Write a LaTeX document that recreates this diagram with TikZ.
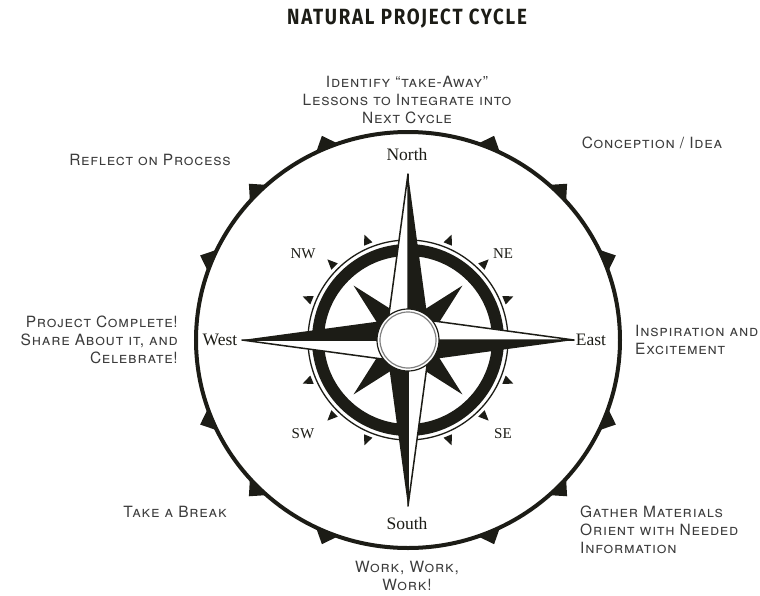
\documentclass[tikz,border=0pt]{standalone}
\usepackage{fontspec}
\usepackage{xcolor}
\newfontfamily\capsfont[Letters=SmallCaps,LetterSpace=5]{TeX Gyre Heros}
\newfontfamily\titlefont[FakeStretch=0.85,LetterSpace=8]{Fira Sans}
\newfontfamily\pointfont{Liberation Serif}
\definecolor{ink}{RGB}{28,28,22}
\definecolor{labelgray}{RGB}{60,60,60}
\tikzset{
  phase/.style={font=\capsfont\fontsize{15.5}{18}\selectfont, text=labelgray, inner sep=0pt},
  cardinal/.style={font=\pointfont\fontsize{17.5}{18}\selectfont, text=ink, inner sep=0pt},
  intercardinal/.style={font=\pointfont\fontsize{15}{16}\selectfont, text=ink, inner sep=0pt},
}

\begin{document}
\begin{tikzpicture}[x=1pt, y=1pt, line join=round]
    \useasboundingbox (-408,-255) rectangle (352,340);

    % Title
    \node[font=\titlefont\bfseries\fontsize{22}{24}\selectfont, text=ink] (title) at (-1,321) {NATURAL PROJECT CYCLE};

    % Outer circle and teeth
    \draw[ink, line width=4] (0,0) ellipse [x radius=212, y radius=208];
    \foreach \a in {22.5,45,67.5,112.5,135,157.5,202.5,225,247.5,292.5,315,337.5}
        \fill[ink] (\a-3.5:211 and 207) -- (\a:225 and 221) -- (\a+3.5:211 and 207) -- cycle;

    % Diagonal points
    \foreach \d in {45,135,225,315}
        \fill[ink] (0,0) -- (\d-32:24) -- (\d:77) -- (\d+32:24) -- cycle;

    % Ring and small ticks
    \draw[ink, line width=12] (0,0) circle (90);
    \draw[ink, line width=1.3] (0,0) circle (100);
    \foreach \a in {22.5,45,67.5,112.5,135,157.5,202.5,225,247.5,292.5,315,337.5}
        \fill[ink] (\a-2.5:104) -- (\a:114) -- (\a+2.5:104) -- cycle;

    % Main points
    \foreach \d in {0,90,180,270} {
        \fill[ink] (0,0) -- (\d:166) -- (\d-45:28) -- cycle;
        \filldraw[fill=white, draw=ink, line width=1.5] (0,0) -- (\d:166) -- (\d+45:28) -- cycle;
    }

    % Centre disc
    \filldraw[fill=white, draw=ink, line width=1.2] (0,0) circle (31);
    \draw[gray, line width=1.2] (0,0) circle (28);

    % Compass labels
    \node[cardinal] (north) at (-1,185) {North};
    \node[cardinal] (south) at (-1,-184) {South};
    \node[cardinal] (west) at (-188,0) {West};
    \node[cardinal] (east) at (183,0) {East};
    \node[intercardinal] (nw) at (-105,86) {NW};
    \node[intercardinal] (ne) at (95,86) {NE};
    \node[intercardinal] (sw) at (-105,-94) {SW};
    \node[intercardinal] (se) at (95,-94) {SE};

    % Phases of the cycle
    \node[phase, align=center] (lessons) at (-1,240) {Identify “take-Away”\\Lessons to Integrate into\\Next Cycle};
    \node[phase] (conception) at (244,197) {Conception / Idea};
    \node[phase, anchor=west, align=left] (inspiration) at (227,0) {Inspiration and\\Excitement};
    \node[phase, anchor=west, align=left] (gather) at (172,-190) {Gather Materials\\Orient with Needed\\Information};
    \node[phase, align=center] (work) at (-1,-236) {Work, Work,\\Work!};
    \node[phase] (rest) at (-233,-172) {Take a Break};
    \node[phase, anchor=east, align=right] (complete) at (-230,0) {Project Complete!\\Share About it, and\\Celebrate!};
    \node[phase] (reflect) at (-258,180) {Reflect on Process};
\end{tikzpicture}
\end{document}
